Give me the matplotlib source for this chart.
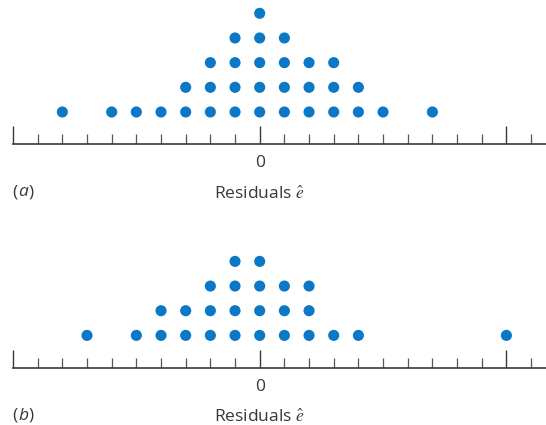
import matplotlib
matplotlib.use("Agg")
import matplotlib.pyplot as plt
from collections import Counter

# Residual values (one entry per dot)
residuals_a = [-8, -6, -5, -4,
               -3, -3,
               -2, -2, -2,
               -1, -1, -1, -1,
               0, 0, 0, 0, 0,
               1, 1, 1, 1,
               2, 2, 2,
               3, 3, 3,
               4, 4,
               5,
               7]
residuals_b = [-7, -5,
               -4, -4,
               -3, -3,
               -2, -2, -2,
               -1, -1, -1, -1,
               0, 0, 0, 0,
               1, 1, 1,
               2, 2, 2,
               3, 4, 10]
panel_letters = ["a", "b"]
axis_title = "Residuals " + r"$\hat{e}$"
major_ticks = [-10, 0, 10]
major_labels = ["", "0", ""]
minor_ticks = list(range(-10, 12))

FAMILY = ["Open Sans", "DejaVu Sans"]
plt.rcParams["font.family"] = FAMILY
plt.rcParams["mathtext.fontset"] = "stix"

W, H = 546, 425
DPI = 100
fig = plt.figure(figsize=(W / DPI, H / DPI), dpi=DPI)

unit = 24.67          # pixels per residual unit
left_px = 13
dot_color = "#0A78C6"
line_color = "#3A3A3A"
text_color = "#383838"
FS = 12.5


def stack(values):
    xs, ys = [], []
    seen = Counter()
    for v in values:
        seen[v] += 1
        xs.append(v)
        ys.append(seen[v] + 0.31)
    return xs, ys


def make_panel(values, axis_y_px, top_px, letter):
    height_px = axis_y_px - top_px
    ax = fig.add_axes([left_px / W, (H - axis_y_px) / H,
                       (W - left_px) / W, height_px / H])
    ax.set_xlim(-10, -10 + (W - left_px) / unit)
    ax.set_ylim(0, height_px / unit)
    xs, ys = stack(values)
    ax.scatter(xs, ys, s=64, color=dot_color, edgecolors="none", zorder=3,
               clip_on=False)
    for s in ["top", "right", "left"]:
        ax.spines[s].set_visible(False)
    ax.spines["bottom"].set_color(line_color)
    ax.spines["bottom"].set_linewidth(1.2)
    ax.set_yticks([])
    ax.set_xticks(major_ticks, labels=major_labels)
    ax.set_xticks(minor_ticks, minor=True)
    ax.tick_params(axis="x", which="major", direction="in", length=13,
                   width=1.0, color=line_color, pad=8, labelsize=FS,
                   labelcolor=text_color)
    ax.tick_params(axis="x", which="minor", direction="in", length=7.2,
                   width=0.9, color="#555555")
    ax.patch.set_alpha(0)
    # axis title
    fig.text(259.5 / W, 1 - (axis_y_px + 54.5) / H, axis_title,
             ha="center", va="baseline", fontsize=FS, color=text_color)
    # panel label: upright parentheses, italic letter
    t1 = fig.text(12 / W, 1 - (axis_y_px + 52) / H, "(",
                  ha="left", va="baseline", fontsize=FS, color=text_color)
    lt = ax.annotate(letter, xy=(1, 0), xycoords=t1, xytext=(0.6, 0),
                     textcoords="offset points", ha="left", va="bottom",
                     fontsize=FS, color=text_color, style="italic",
                     annotation_clip=False)
    ax.annotate(")", xy=(1, 0), xycoords=lt, xytext=(0.6, 0),
                textcoords="offset points", ha="left", va="bottom",
                fontsize=FS, color=text_color, annotation_clip=False)
    return ax


make_panel(residuals_a, 144.3, 0, panel_letters[0])
make_panel(residuals_b, 367.7, 230, panel_letters[1])

fig.savefig("out.png", dpi=DPI)
